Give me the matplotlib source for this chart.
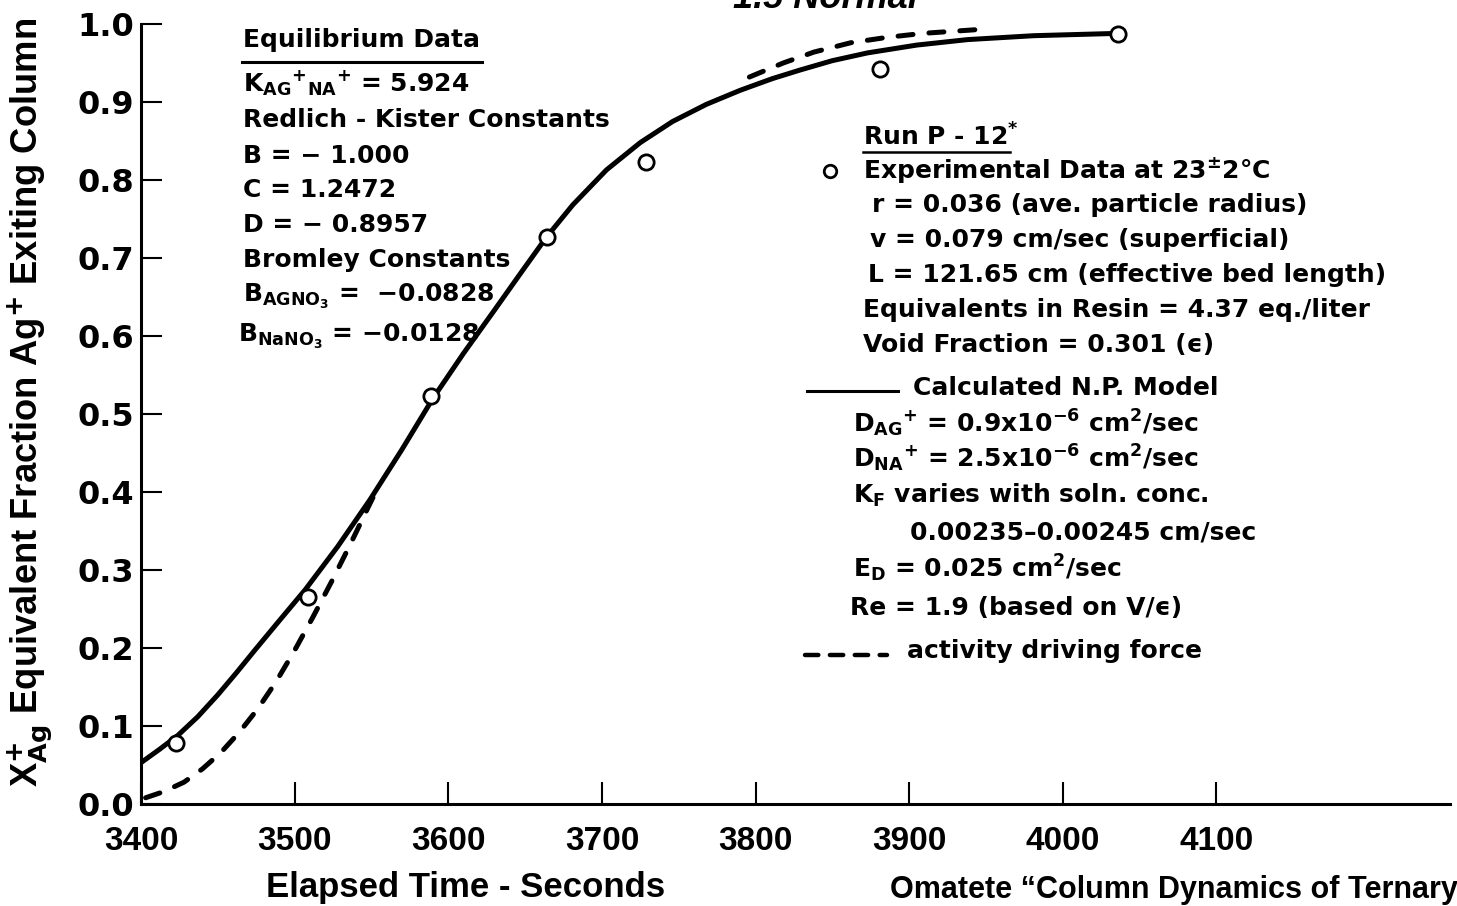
import matplotlib
matplotlib.use("Agg")
import matplotlib.pyplot as plt
from matplotlib.lines import Line2D

plt.rcParams['font.family'] = ['DejaVu Sans']
plt.rcParams['font.weight'] = 'bold'
plt.rcParams['mathtext.fontset'] = 'custom'
plt.rcParams['mathtext.rm'] = 'DejaVu Sans:bold'
plt.rcParams['mathtext.it'] = 'DejaVu Sans:bold'
plt.rcParams['mathtext.bf'] = 'DejaVu Sans:bold'
plt.rcParams['mathtext.sf'] = 'DejaVu Sans:bold'
plt.rcParams['mathtext.default'] = 'rm'

MINUS = "\u2212"
EPS = "\u03f5"
LIB = ['Liberation Sans', 'DejaVu Sans']

# ---------------- data ----------------
exp_time = [3423, 3509, 3589, 3664, 3729, 3881, 4036]
exp_frac = [0.078, 0.265, 0.523, 0.727, 0.823, 0.942, 0.987]

model_time = [3400, 3412, 3424, 3437, 3450, 3462, 3474, 3490, 3507, 3528, 3549, 3570,
              3590, 3610, 3630, 3648, 3664, 3681, 3703, 3725, 3746, 3768, 3790, 3811,
              3829, 3850, 3873, 3905, 3938, 3981, 4036]
model_frac = [0.053, 0.070, 0.088, 0.112, 0.140, 0.168, 0.197, 0.235, 0.275, 0.330, 0.390, 0.455,
              0.520, 0.578, 0.633, 0.683, 0.727, 0.768, 0.813, 0.848, 0.875, 0.897, 0.915, 0.930,
              0.941, 0.953, 0.963, 0.973, 0.980, 0.985, 0.988]

activity_low_time = [3403, 3415, 3428, 3440, 3452, 3464, 3476, 3488, 3500, 3512, 3524, 3536, 3548, 3554]
activity_low_frac = [0.008, 0.016, 0.028, 0.045, 0.066, 0.092, 0.122, 0.157, 0.197, 0.240, 0.285, 0.332, 0.381, 0.405]

activity_high_time = [3796, 3818, 3838, 3862, 3886, 3909, 3931, 3953]
activity_high_frac = [0.932, 0.950, 0.964, 0.976, 0.983, 0.988, 0.991, 0.994]

x_ticks = [3400, 3500, 3600, 3700, 3800, 3900, 4000, 4100]
x_tick_labels = ['3400', '3500', '3600', '3700', '3800', '3900', '4000', '4100']
y_ticks = [0.0, 0.1, 0.2, 0.3, 0.4, 0.5, 0.6, 0.7, 0.8, 0.9, 1.0]
y_tick_labels = ['0.0', '0.1', '0.2', '0.3', '0.4', '0.5', '0.6', '0.7', '0.8', '0.9', '1.0']

left_lines = [
    "Equilibrium Data",
    r"K$_{AG}{}^{+}{}_{NA}{}^{+}$ = 5.924",
    "Redlich - Kister Constants",
    "B = " + MINUS + " 1.000",
    "C = 1.2472",
    "D = " + MINUS + " 0.8957",
    "Bromley Constants",
    r"B$_{AGNO_3}$ =  " + MINUS + "0.0828",
    r"B$_{NaNO_3}$ = " + MINUS + "0.0128",
]
right_lines = [
    "Run P - 12$^{*}$",
    r"Experimental Data at 23$^{\pm}$2°C",
    "r = 0.036 (ave. particle radius)",
    "v = 0.079 cm/sec (superficial)",
    "L = 121.65 cm (effective bed length)",
    "Equivalents in Resin = 4.37 eq./liter",
    "Void Fraction = 0.301 (" + EPS + ")",
    "Calculated N.P. Model",
    r"D$_{AG}{}^{+}$ = 0.9x10$^{-6}$ cm$^{2}$/sec",
    r"D$_{NA}{}^{+}$ = 2.5x10$^{-6}$ cm$^{2}$/sec",
    r"K$_{F}$ varies with soln. conc.",
    "0.00235\u20130.00245 cm/sec",
    r"E$_{D}$ = 0.025 cm$^{2}$/sec",
    "Re = 1.9 (based on V/" + EPS + ")",
    "activity driving force",
]

# ---------------- figure ----------------
W, H = 1457, 906
fig = plt.figure(figsize=(W / 100, H / 100), dpi=100)


def px(x, y):
    return x / W, 1 - y / H


ax = fig.add_axes([141 / W, 1 - 804 / H, (1450 - 141) / W, 780 / H])
ax.set_xlim(3400, 4252)
ax.set_ylim(0, 1.0)

lw = 3.6
ax.plot(model_time, model_frac, color='black', lw=lw, solid_capstyle='round',
        solid_joinstyle='round', zorder=3)
for tx, fy in [(activity_low_time, activity_low_frac), (activity_high_time, activity_high_frac)]:
    ax.plot(tx, fy, color='black', lw=lw, dashes=(3.0, 3.2), dash_capstyle='round', zorder=3)
ax.plot(exp_time, exp_frac, linestyle='none', marker='o', ms=11, mfc='white',
        mec='black', mew=2.0, zorder=4)

for s in ['top', 'right']:
    ax.spines[s].set_visible(False)
for s in ['left', 'bottom']:
    ax.spines[s].set_linewidth(2.2)

ax.set_xticks(x_ticks)
ax.set_xticklabels(x_tick_labels, fontsize=24, fontweight='bold', family=LIB)
ax.set_yticks(y_ticks)
ax.set_yticklabels(y_tick_labels, fontsize=23, fontweight='bold', family='DejaVu Sans')
ax.tick_params(axis='x', direction='in', length=16, width=1.5, pad=16)
ax.tick_params(axis='y', direction='in', length=15, width=1.5, pad=5)

# axis labels
fig.text(*px(466, 888), "Elapsed Time - Seconds", fontsize=25, fontweight='bold',
         family=LIB, ha='center', va='center')
fig.text(*px(30, 402), r"X$_{Ag}^{+}$ Equivalent Fraction Ag$^{+}$ Exiting Column",
         fontsize=26.2, fontweight='bold', family=LIB, math_fontfamily='custom',
         rotation=90, ha='center', va='center')
fig.text(*px(825, 8), "1.5 Normal", fontsize=26, fontweight='bold', style='italic',
         family=LIB, ha='center', va='baseline')
fig.text(*px(890, 898), "Omatete \u201cColumn Dynamics of Ternary", fontsize=22,
         fontweight='bold', family=LIB, ha='left', va='baseline')

# left text block
left_pos = [(243, 47), (243, 92), (243, 127), (243, 163), (243, 197), (243, 232),
            (243, 267), (243, 302), (238, 342)]
for s, (x, y) in zip(left_lines, left_pos):
    fig.text(*px(x, y), s, fontsize=18, fontweight='bold', ha='left', va='baseline')
fig.add_artist(Line2D([242 / W, 482 / W], [1 - 62 / H, 1 - 62 / H], color='black',
                      lw=2.2, transform=fig.transFigure))

# right text block
right_pos = [(863, 146), (863, 178), (872, 212), (870, 247), (868, 282), (863, 317),
             (863, 352), (913, 395), (853, 432), (853, 467), (853, 503), (910, 540),
             (853, 577), (850, 615), (907, 658)]
for s, (x, y) in zip(right_lines, right_pos):
    fig.text(*px(x, y), s, fontsize=18, fontweight='bold', ha='left', va='baseline')
fig.add_artist(Line2D([863 / W, 1010 / W], [1 - 152 / H, 1 - 152 / H], color='black',
                      lw=1.8, transform=fig.transFigure))
fig.add_artist(Line2D([830 / W], [1 - 171 / H], marker='o', ms=9, mfc='white',
                      mec='black', mew=2.0, linestyle='none', transform=fig.transFigure))
fig.add_artist(Line2D([807 / W, 898 / W], [1 - 391 / H, 1 - 391 / H], color='black',
                      lw=2.2, transform=fig.transFigure))
fig.add_artist(Line2D([805 / W, 887 / W], [1 - 655 / H, 1 - 655 / H], color='black',
                      lw=3.2, dashes=(3.0, 2.6), dash_capstyle='round',
                      transform=fig.transFigure))

fig.savefig("out.png", dpi=100)
